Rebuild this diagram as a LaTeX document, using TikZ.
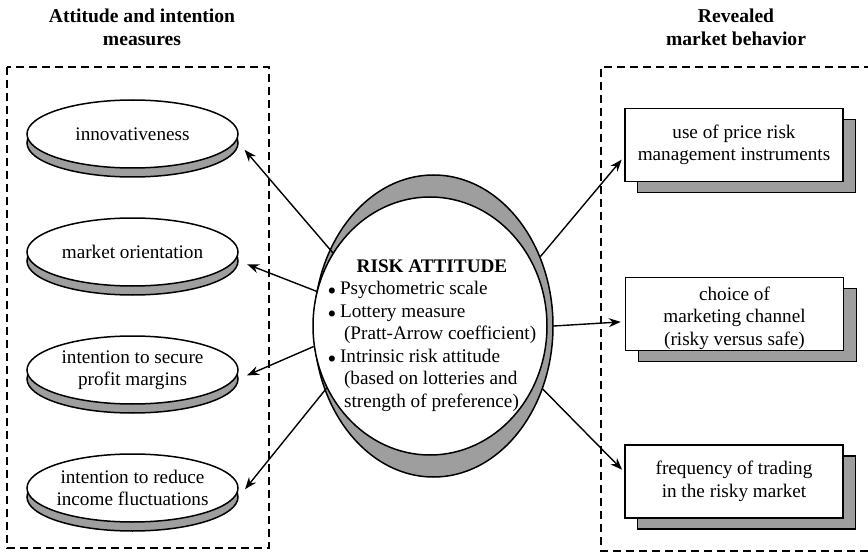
\documentclass[tikz,border=0pt]{standalone}
\usepackage{fontspec}
\setmainfont{Liberation Serif}
\usetikzlibrary{shapes.geometric,arrows.meta}

\tikzset{
  disc/.style={ellipse, draw, line width=0.75pt, fill=white, minimum width=105.5pt, minimum height=34pt, inner sep=0pt},
  discshade/.style={disc, fill=black!38},
  card/.style={rectangle, draw, line width=0.75pt, fill=white, minimum width=109pt, minimum height=36.5pt, inner sep=0pt},
  cardshade/.style={card, fill=black!38},
  txt/.style={align=center, inner sep=0pt},
  frame/.style={line width=0.75pt, dash pattern=on 4pt off 2.5pt},
  arr/.style={-{Stealth[length=6pt,width=4.5pt]}, line width=0.7pt},
}

\begin{document}
\begin{tikzpicture}[x=0.5pt, y=-0.5pt, font=\fontsize{9.6}{11.25}\selectfont]
			%%%%% START %%%%%
			\useasboundingbox (0,0) rectangle (868,556);
			
			\node[txt, font=\fontsize{9.8}{11.5}\selectfont\bfseries] (lefttitle) at (142,27.5) {Attitude and intention\\measures};
			\node[txt, font=\fontsize{9.8}{11.5}\selectfont\bfseries] (righttitle) at (736,27.5) {Revealed\\market behavior};
			
			\draw[frame] (7,67) rectangle (269,548);
			\draw[frame] (872,67) -- (601,67) -- (601,551) -- (872,551);
			
			% centre
			\node[ellipse, draw, line width=0.75pt, fill=black!38, minimum width=119.5pt, minimum height=151pt] (riskbg) at (433.5,326) {};
			\node[ellipse, draw, line width=0.75pt, fill=white, minimum width=117pt, minimum height=129pt] (risk) at (430,326) {};
			\node[txt] (risktext) at (432,335) {\begin{tabular}{@{}l@{\hspace{2pt}}l@{}}
				\multicolumn{2}{c}{\textbf{RISK ATTITUDE}}\\
				$\scriptstyle\bullet$ & Psychometric scale\\
				$\scriptstyle\bullet$ & Lottery measure\\
				& \hspace{2pt}(Pratt-Arrow coefficient)\\
				$\scriptstyle\bullet$ & Intrinsic risk attitude\\
				& \hspace{2pt}(based on lotteries and\\
				& \hspace{2pt}strength of preference)
			\end{tabular}};
			
			% measures
			\node[discshade] (innovbg) at (132.5,143) {};
			\node[disc] (innov) at (132.5,134) {};
			\node[txt] (innovtext) at (innov) {innovativeness};
			
			\node[discshade] (orientbg) at (132.5,261) {};
			\node[disc] (orient) at (132.5,252) {};
			\node[txt] (orienttext) at (orient) {market orientation};
			
			\node[discshade] (marginbg) at (132.5,379) {};
			\node[disc] (margin) at (132.5,370) {};
			\node[txt] (margintext) at (margin) {intention to secure\\profit margins};
			
			\node[discshade] (incomebg) at (132.5,497) {};
			\node[disc] (income) at (132.5,488) {};
			\node[txt] (incometext) at (income) {intention to reduce\\income fluctuations};
			
			% behavior
			\node[cardshade] (hedgebg) at (746.5,156) {};
			\node[card] (hedge) at (734,145) {};
			\node[txt] (hedgetext) at (hedge) {use of price risk\\management instruments};
			
			\node[cardshade] (chanbg) at (747.5,325) {};
			\node[card] (chan) at (734.5,314) {};
			\node[txt] (chantext) at ([yshift=-2pt]chan.center) {choice of\\marketing channel\\(risky versus safe)};
			
			\node[cardshade] (tradebg) at (746.5,492.5) {};
			\node[card] (trade) at (734,481.5) {};
			\node[txt] (tradetext) at (trade) {frequency of trading\\in the risky market};
			
			% arrows
			\draw[arr, shorten >=4.5pt] (risk.143) -- (innovbg.east);
			\draw[arr, shorten >=4.5pt] (risk.163) -- (orientbg.east);
			\draw[arr, shorten >=4.5pt] (risk.190) -- (marginbg.east);
			\draw[arr, shorten >=5pt] (risk.211) -- (incomebg.east);
			
			\draw[arr, shorten >=2pt] (riskbg.33) -- (hedge.186);
			\draw[arr, shorten >=2pt] (riskbg.0) -- (chan.184);
			\draw[arr, shorten >=1.5pt] (riskbg.-30) -- (trade.175.5);
			
			%%%%% END %%%%%
\end{tikzpicture}
\end{document}
